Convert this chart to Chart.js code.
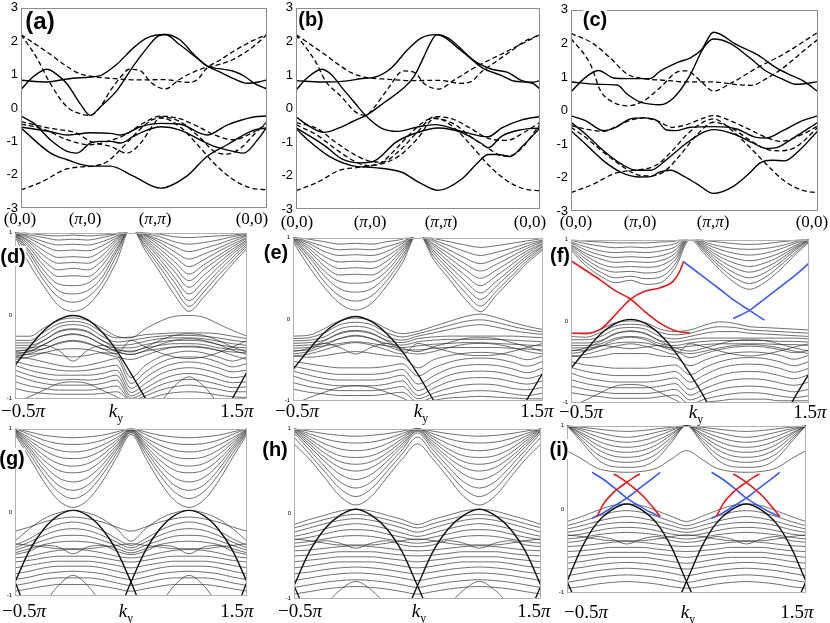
<!DOCTYPE html>
<html>
<head>
<meta charset="utf-8">
<title>bulk and slab bands</title>
<script src="https://cdn.jsdelivr.net/npm/chart.js@4.4.1/dist/chart.umd.min.js"></script>
<style>
  html, body { margin: 0; padding: 0; background: #fff; }
  #fig { position: relative; width: 830px; height: 623px; overflow: hidden; }
  #fig canvas { position: absolute; }
  .xl { position: absolute; transform: translate(-50%, -50%); font-family: "Liberation Serif", "DejaVu Serif", serif; white-space: nowrap; color: #000; line-height: 1; }
  .tag { position: absolute; transform: translate(-50%, -50%); font-family: "Liberation Sans", Arial, sans-serif; font-weight: bold; background: #fff; line-height: 1; white-space: nowrap; }
</style>
</head>
<body>
<div id="fig"></div>
<script>
// ---- tick labels ----
const pathTicks = ['(0,0)', '(π,0)', '(π,π)', '(0,0)'];   // Γ - X - M - Γ, |MΓ| = 1.414
const kyTicks = ['−0.5π', 'k_y', '1.5π'];

// ---- bulk bands (a)-(c): [k, E] ----
const aSolid = [
  [[0,0.83],[0.36,0.78],[0.64,0.87],[0.96,0.93],[1.1,0.97],[1.33,1.31],[1.56,1.8],[1.75,2.1],[2,2.2],[2.2,2.05],[2.4,1.6],[2.58,1.26],[2.77,1.17],[2.95,1.1],[3.1,0.95],[3.25,0.72],[3.414,0.57]],
  [[0,0.55],[0.15,0.9],[0.36,1.16],[0.5,1.0],[0.64,0.72],[0.82,0.13],[0.96,-0.22],[1.1,0.03],[1.33,0.52],[1.56,1.26],[1.75,1.8],[1.9,2.15],[2,2.2],[2.2,1.9],[2.49,1.41],[2.58,1.26],[2.77,1.07],[2.95,0.88],[3.14,0.74],[3.3,0.78],[3.414,0.84]],
  [[0,-0.57],[0.41,-0.71],[0.64,-0.81],[0.96,-0.74],[1.24,-0.76],[1.38,-0.81],[1.66,-0.56],[1.94,-0.46],[2.2,-0.48],[2.49,-0.76],[2.58,-0.81],[2.86,-0.51],[3.23,-0.27],[3.414,-0.24]],
  [[0,-0.24],[0.18,-0.46],[0.41,-0.96],[0.64,-1.3],[0.78,-1.35],[0.96,-1.05],[1.1,-1.0],[1.24,-1.0],[1.38,-1.05],[1.56,-0.85],[1.75,-0.66],[1.94,-0.56],[2.21,-0.66],[2.49,-0.96],[2.68,-1.15],[2.95,-1.3],[3.09,-1.35],[3.28,-0.96],[3.414,-0.56]],
  [[0,-0.6],[0.41,-1.35],[0.64,-1.55],[0.96,-1.74],[1.24,-1.74],[1.56,-2.04],[1.94,-2.4],[2.3,-2.04],[2.58,-1.45],[2.86,-1.1],[3.23,-0.66],[3.414,-0.6]]
];
const aDashed = [
  [[0,2.2],[0.41,1.6],[0.6,1.3],[0.78,1.06],[1,0.94],[1.3,0.88],[1.6,0.84],[2,0.85],[2.3,0.77],[2.45,0.85],[2.58,1.2],[2.75,1.42],[2.95,1.7],[3.2,2.0],[3.414,2.2]],
  [[0,2.2],[0.22,1.5],[0.41,0.72],[0.64,0.03],[0.87,-0.2],[0.96,-0.22],[1.1,0.03],[1.24,0.52],[1.38,0.92],[1.5,1.16],[1.66,1.11],[1.8,0.77],[2,0.57],[2.21,0.87],[2.49,1.16],[2.68,1.26],[2.95,1.46],[3.23,1.85],[3.414,2.2]],
  [[0,-0.41],[0.41,-0.61],[0.78,-0.76],[0.96,-1.0],[1.24,-1.15],[1.47,-1.35],[1.66,-1.05],[1.85,-0.46],[1.94,-0.27],[2.2,-0.4],[2.49,-0.9],[2.68,-1.3],[2.86,-1.38],[3.05,-1.2],[3.23,-0.8],[3.414,-0.41]],
  [[0,-0.48],[0.3,-0.62],[0.64,-0.95],[0.96,-1.1],[1.2,-1.0],[1.45,-0.8],[1.7,-0.45],[1.94,-0.24],[2.2,-0.32],[2.45,-0.55],[2.7,-0.82],[2.95,-0.95],[3.2,-0.75],[3.414,-0.48]],
  [[0,-2.45],[0.3,-2.2],[0.6,-1.85],[0.85,-1.76],[1,-1.74],[1.2,-1.6],[1.4,-1.2],[1.6,-0.75],[1.8,-0.38],[1.94,-0.3],[2.2,-0.55],[2.45,-1.1],[2.7,-1.7],[2.95,-2.15],[3.2,-2.4],[3.414,-2.45]]
];
const bSolid = [
  [[0,0.83],[0.36,0.79],[0.6,0.8],[0.96,0.9],[1.1,0.93],[1.33,1.2],[1.56,1.75],[1.75,2.1],[1.97,2.2],[2.13,2.1],[2.5,1.41],[2.74,1.17],[2.97,1.07],[3.16,0.83],[3.3,0.78],[3.414,0.83]],
  [[0,0.55],[0.15,0.9],[0.36,1.17],[0.5,1.0],[0.64,0.63],[0.83,0.15],[0.97,-0.2],[1.2,-0.59],[1.43,-0.68],[1.7,-0.55],[1.95,-0.48],[2.32,-0.68],[2.6,-0.83],[2.69,-0.84],[2.88,-0.58],[3.16,-0.34],[3.414,-0.24]],
  [[0,-0.25],[0.2,-0.55],[0.39,-0.71],[0.6,-0.58],[0.8,-0.38],[1,-0.18],[1.25,0.2],[1.5,0.6],[1.65,0.95],[1.78,1.5],[1.88,1.95],[1.97,2.2],[2.32,1.71],[2.6,1.22],[2.88,0.98],[3.06,0.81],[3.3,0.76],[3.414,0.58]],
  [[0,-0.57],[0.41,-1.12],[0.64,-1.5],[0.9,-1.62],[1.1,-1.56],[1.4,-1.0],[1.68,-0.73],[1.99,-0.58],[2.32,-0.72],[2.6,-1.05],[2.69,-1.17],[2.88,-0.82],[3.16,-0.63],[3.414,-0.58]],
  [[0,-0.6],[0.2,-1.0],[0.46,-1.42],[0.78,-1.7],[1.1,-1.76],[1.48,-1.9],[1.72,-2.2],[1.99,-2.44],[2.32,-2.1],[2.55,-1.6],[2.69,-1.37],[2.83,-1.37],[3.0,-1.43],[3.16,-1.14],[3.414,-0.58]]
];
const bDashed = [
  [[0,2.2],[0.41,1.6],[0.6,1.3],[0.78,1.06],[1,0.92],[1.3,0.87],[1.6,0.83],[2,0.84],[2.3,0.75],[2.45,0.8],[2.6,1.1],[2.8,1.4],[3.0,1.7],[3.2,2.0],[3.414,2.2]],
  [[0,2.2],[0.27,1.41],[0.41,0.83],[0.64,0.34],[0.83,-0.1],[0.97,-0.2],[1.1,0.05],[1.3,0.63],[1.5,1.12],[1.66,1.07],[1.8,0.73],[2,0.58],[2.2,0.83],[2.5,1.22],[2.95,1.7],[3.414,2.2]],
  [[0,-0.42],[0.3,-0.6],[0.55,-1.0],[0.8,-1.35],[1,-1.55],[1.2,-1.6],[1.45,-1.25],[1.7,-0.7],[1.94,-0.24],[2.2,-0.32],[2.45,-0.6],[2.7,-0.9],[2.95,-0.95],[3.2,-0.7],[3.414,-0.42]],
  [[0,-0.48],[0.3,-0.8],[0.55,-1.2],[0.8,-1.55],[1,-1.7],[1.2,-1.65],[1.45,-1.4],[1.7,-0.9],[1.94,-0.3],[2.2,-0.45],[2.45,-0.85],[2.7,-1.2],[2.9,-1.42],[3.1,-1.3],[3.414,-0.48]],
  [[0,-2.45],[0.3,-2.2],[0.6,-1.85],[0.85,-1.76],[1,-1.72],[1.2,-1.6],[1.4,-1.2],[1.6,-0.75],[1.8,-0.38],[1.94,-0.28],[2.2,-0.55],[2.45,-1.1],[2.7,-1.7],[2.95,-2.15],[3.2,-2.4],[3.414,-2.45]]
];
const cSolid = [
  [[0,0.85],[0.36,0.78],[0.64,0.76],[0.77,0.5],[0.96,0.25],[1.1,0.19],[1.23,0.17],[1.42,0.38],[1.65,1.07],[1.83,1.86],[1.97,2.13],[2.2,2.0],[2.47,1.57],[2.7,1.17],[2.93,0.93],[3.12,0.78],[3.414,0.86]],
  [[0,0.55],[0.18,0.95],[0.38,1.19],[0.59,0.97],[0.77,0.95],[1.09,0.95],[1.23,1.17],[1.46,1.42],[1.65,1.57],[1.8,1.8],[1.97,2.33],[2.29,1.96],[2.57,1.67],[2.84,1.27],[3.02,1.07],[3.21,0.88],[3.414,0.56]],
  [[0,-0.16],[0.2,-0.3],[0.45,-0.6],[0.62,-0.5],[0.82,-0.25],[1,-0.22],[1.19,-0.3],[1.32,-0.58],[1.46,-0.6],[1.65,-0.5],[1.97,-0.48],[2.29,-0.55],[2.56,-0.8],[2.7,-0.82],[2.93,-0.6],[3.2,-0.3],[3.414,-0.16]],
  [[0,-0.35],[0.2,-0.7],[0.45,-1.2],[0.7,-1.6],[0.9,-1.78],[1.1,-1.78],[1.3,-1.5],[1.55,-1.05],[1.8,-0.68],[1.97,-0.57],[2.25,-0.7],[2.5,-0.95],[2.7,-1.13],[2.85,-1.1],[3.05,-0.85],[3.414,-0.35]],
  [[0,-0.6],[0.2,-1.0],[0.45,-1.5],[0.7,-1.85],[0.95,-1.98],[1.1,-1.97],[1.23,-1.83],[1.38,-1.78],[1.55,-1.95],[1.75,-2.2],[1.97,-2.47],[2.25,-2.25],[2.45,-1.9],[2.62,-1.55],[2.78,-1.48],[2.95,-1.5],[3.15,-1.2],[3.414,-0.6]]
];
const cDashed = [
  [[0,2.3],[0.3,2.0],[0.55,1.55],[0.78,1.08],[1,0.95],[1.3,0.9],[1.6,0.85],[1.97,0.85],[2.3,0.77],[2.5,0.75],[2.7,0.95],[2.95,1.3],[3.2,1.75],[3.414,2.12]],
  [[0,2.15],[0.27,1.37],[0.41,0.58],[0.59,0.24],[0.77,0.14],[1,0.28],[1.23,0.68],[1.5,1.17],[1.6,1.18],[1.79,0.88],[1.97,0.58],[2.2,0.8],[2.57,1.27],[2.93,1.67],[3.414,2.33]],
  [[0,-0.45],[0.2,-0.55],[0.45,-0.62],[0.65,-0.45],[0.85,-0.27],[1,-0.22],[1.2,-0.32],[1.4,-0.5],[1.6,-0.42],[1.8,-0.25],[1.97,-0.15],[2.2,-0.3],[2.45,-0.55],[2.7,-0.8],[2.9,-0.92],[3.1,-0.8],[3.3,-0.6],[3.414,-0.45]],
  [[0,-0.5],[0.2,-0.8],[0.45,-1.25],[0.7,-1.65],[0.9,-1.9],[1.1,-1.95],[1.3,-1.8],[1.5,-1.35],[1.75,-0.7],[1.97,-0.35],[2.2,-0.5],[2.45,-0.85],[2.7,-1.15],[2.9,-1.2],[3.1,-1.1],[3.414,-0.5]],
  [[0,-2.45],[0.3,-2.2],[0.6,-1.88],[0.85,-1.78],[1,-1.75],[1.2,-1.6],[1.4,-1.2],[1.6,-0.72],[1.8,-0.38],[1.97,-0.25],[2.2,-0.55],[2.45,-1.05],[2.7,-1.6],[2.95,-2.1],[3.2,-2.38],[3.414,-2.45]]
];

// ---- slab bands (d)-(i): E at each ky of KY (units of π) ----
const KY = [-0.5,-0.375,-0.25,-0.125,0,0.125,0.25,0.375,0.5,0.625,0.75,0.875,1,1.125,1.25,1.375,1.5];

const dCond = [
  [0.95,0.62,0.35,0.12,0.05,0.12,0.33,0.65,1.05,0.78,0.52,0.25,0.05,0.22,0.42,0.62,0.81],
  [0.97,0.7,0.42,0.22,0.16,0.22,0.4,0.72,1.05,0.82,0.58,0.33,0.11,0.28,0.48,0.66,0.84],
  [0.98,0.75,0.48,0.3,0.26,0.3,0.46,0.77,1.05,0.85,0.63,0.4,0.18,0.34,0.53,0.7,0.86],
  [0.99,0.78,0.54,0.38,0.36,0.39,0.53,0.8,1.05,0.88,0.68,0.46,0.26,0.41,0.58,0.74,0.88],
  [0.99,0.82,0.6,0.47,0.48,0.47,0.6,0.84,1.05,0.9,0.72,0.53,0.34,0.48,0.63,0.77,0.9],
  [1.0,0.85,0.66,0.55,0.57,0.55,0.66,0.87,1.05,0.92,0.76,0.59,0.42,0.55,0.68,0.8,0.91],
  [1.0,0.88,0.72,0.63,0.64,0.63,0.72,0.9,1.05,0.94,0.8,0.65,0.5,0.61,0.72,0.83,0.93],
  [1.0,0.9,0.78,0.7,0.71,0.7,0.78,0.92,1.05,0.96,0.84,0.71,0.59,0.67,0.77,0.86,0.94],
  [1.0,0.93,0.84,0.78,0.79,0.78,0.84,0.94,1.05,0.97,0.88,0.77,0.68,0.74,0.81,0.89,0.96],
  [1.01,0.95,0.89,0.85,0.86,0.85,0.89,0.96,1.05,0.98,0.91,0.83,0.77,0.81,0.86,0.92,0.97],
  [1.01,0.97,0.94,0.91,0.92,0.91,0.94,0.98,1.05,0.99,0.95,0.89,0.86,0.88,0.91,0.95,0.98],
  [1.02,0.99,0.97,0.96,0.97,0.96,0.97,0.99,1.05,1.0,0.98,0.95,0.94,0.95,0.96,0.97,0.99]
];
const dVal = [
  [-0.25,-0.25,-0.15,-0.06,-0.03,-0.06,-0.15,-0.25,-0.27,-0.16,-0.07,-0.01,0,-0.02,-0.1,-0.18,-0.25],
  [-0.3,-0.3,-0.2,-0.1,-0.07,-0.1,-0.2,-0.27,-0.26,-0.23,-0.22,-0.21,-0.21,-0.21,-0.22,-0.25,-0.28],
  [-0.33,-0.33,-0.25,-0.14,-0.11,-0.14,-0.25,-0.32,-0.3,-0.27,-0.25,-0.24,-0.24,-0.25,-0.27,-0.3,-0.32],
  [-0.36,-0.36,-0.3,-0.19,-0.16,-0.19,-0.3,-0.36,-0.35,-0.31,-0.28,-0.27,-0.27,-0.28,-0.31,-0.34,-0.36],
  [-0.39,-0.39,-0.35,-0.26,-0.22,-0.26,-0.35,-0.39,-0.39,-0.35,-0.32,-0.3,-0.3,-0.31,-0.35,-0.38,-0.39],
  [-0.42,-0.42,-0.4,-0.33,-0.3,-0.33,-0.4,-0.42,-0.43,-0.39,-0.36,-0.34,-0.34,-0.35,-0.39,-0.41,-0.42],
  [-0.44,-0.4,-0.3,-0.2,-0.17,-0.2,-0.3,-0.4,-0.44,-0.38,-0.3,-0.24,-0.22,-0.24,-0.3,-0.38,-0.44],
  [-0.47,-0.43,-0.35,-0.26,-0.23,-0.26,-0.35,-0.43,-0.47,-0.42,-0.35,-0.3,-0.28,-0.3,-0.35,-0.42,-0.47],
  [-0.5,-0.46,-0.4,-0.34,-0.31,-0.34,-0.4,-0.46,-0.3,-0.38,-0.45,-0.5,-0.52,-0.5,-0.45,-0.38,-0.3],
  [-0.53,-0.5,-0.45,-0.41,-0.4,-0.41,-0.45,-0.5,-0.53,-0.48,-0.42,-0.38,-0.37,-0.38,-0.42,-0.48,-0.53],
  [-0.45,-0.44,-0.36,-0.42,-0.55,-0.42,-0.36,-0.44,-0.47,-0.43,-0.4,-0.38,-0.38,-0.39,-0.42,-0.44,-0.45],
  [-0.48,-0.47,-0.45,-0.48,-0.5,-0.48,-0.45,-0.47,-0.75,-0.6,-0.5,-0.45,-0.43,-0.45,-0.5,-0.55,-0.5],
  [-0.5,-0.52,-0.56,-0.6,-0.62,-0.6,-0.56,-0.52,-0.82,-0.68,-0.57,-0.51,-0.5,-0.51,-0.56,-0.62,-0.58],
  [-0.55,-0.6,-0.63,-0.66,-0.67,-0.66,-0.63,-0.6,-0.88,-0.75,-0.64,-0.58,-0.56,-0.58,-0.63,-0.68,-0.66],
  [-0.6,-0.66,-0.7,-0.72,-0.72,-0.72,-0.7,-0.66,-0.93,-0.82,-0.71,-0.65,-0.63,-0.65,-0.7,-0.75,-0.73],
  [-0.66,-0.72,-0.76,-0.78,-0.77,-0.78,-0.76,-0.72,-0.97,-0.88,-0.78,-0.72,-0.7,-0.72,-0.77,-0.81,-0.8],
  [-0.72,-0.78,-0.82,-0.84,-0.84,-0.84,-0.82,-0.78,-1.0,-0.93,-0.84,-0.79,-0.77,-0.79,-0.83,-0.87,-0.86],
  [-0.8,-0.85,-0.88,-0.9,-0.9,-0.9,-0.88,-0.85,-1.02,-0.97,-0.9,-0.86,-0.84,-0.86,-0.89,-0.92,-0.92],
  [-0.88,-0.92,-0.94,-0.95,-0.95,-0.95,-0.94,-0.92,-1.05,-1.2,-1.05,-0.85,-0.74,-0.85,-1.05,-1.2,-1.3],
  [-1.05,-0.98,-0.9,-0.82,-0.8,-0.82,-0.9,-0.98,-1.05,-1.02,-0.96,-0.93,-0.92,-0.93,-0.96,-0.98,-0.99]
];
const dHeavy = [
  [-0.6,-0.38,-0.18,-0.05,0,-0.05,-0.2,-0.42,-0.7,-1.0,-1.3,-1.5,-1.5,-1.5,-1.3,-1.0,-0.68]
];

const eCond = [
  [0.95,0.65,0.39,0.19,0.11,0.19,0.41,0.69,1.05,0.73,0.49,0.25,0.09,0.29,0.49,0.69,0.85],
  [0.97,0.72,0.46,0.28,0.22,0.28,0.47,0.74,1.05,0.77,0.55,0.33,0.16,0.34,0.53,0.72,0.87],
  [0.98,0.77,0.53,0.37,0.33,0.37,0.53,0.78,1.05,0.81,0.6,0.4,0.24,0.4,0.58,0.75,0.89],
  [0.99,0.8,0.59,0.46,0.44,0.46,0.59,0.82,1.05,0.84,0.65,0.47,0.32,0.46,0.62,0.78,0.9],
  [0.99,0.84,0.65,0.54,0.55,0.54,0.65,0.85,1.05,0.87,0.7,0.54,0.41,0.53,0.67,0.81,0.92],
  [1.0,0.87,0.71,0.62,0.63,0.62,0.71,0.88,1.05,0.9,0.75,0.61,0.5,0.6,0.72,0.84,0.93],
  [1.0,0.9,0.77,0.7,0.71,0.7,0.77,0.9,1.05,0.92,0.8,0.68,0.59,0.67,0.77,0.87,0.95],
  [1.0,0.93,0.83,0.78,0.79,0.78,0.83,0.93,1.05,0.95,0.85,0.75,0.68,0.74,0.82,0.9,0.96],
  [1.01,0.95,0.89,0.85,0.86,0.85,0.89,0.95,1.05,0.97,0.9,0.83,0.78,0.82,0.87,0.93,0.97],
  [1.01,0.98,0.95,0.92,0.93,0.92,0.95,0.98,1.05,0.99,0.95,0.91,0.88,0.9,0.93,0.96,0.99]
];
const eVal = [
  [-0.21,-0.2,-0.12,-0.02,0.01,-0.02,-0.12,-0.18,-0.15,-0.09,-0.03,0.03,0.06,0.02,-0.04,-0.09,-0.13],
  [-0.24,-0.23,-0.17,-0.07,-0.04,-0.07,-0.17,-0.22,-0.18,-0.13,-0.08,-0.03,-0.01,-0.04,-0.09,-0.13,-0.16],
  [-0.27,-0.26,-0.22,-0.12,-0.09,-0.12,-0.22,-0.26,-0.21,-0.17,-0.13,-0.09,-0.07,-0.1,-0.14,-0.17,-0.19],
  [-0.3,-0.29,-0.26,-0.18,-0.15,-0.18,-0.26,-0.29,-0.24,-0.22,-0.21,-0.21,-0.21,-0.21,-0.21,-0.22,-0.23],
  [-0.33,-0.32,-0.3,-0.24,-0.21,-0.24,-0.3,-0.32,-0.28,-0.26,-0.25,-0.25,-0.25,-0.25,-0.26,-0.27,-0.28],
  [-0.36,-0.35,-0.33,-0.3,-0.28,-0.3,-0.33,-0.35,-0.33,-0.31,-0.3,-0.29,-0.29,-0.3,-0.31,-0.32,-0.33],
  [-0.4,-0.36,-0.27,-0.17,-0.14,-0.17,-0.27,-0.36,-0.4,-0.34,-0.29,-0.24,-0.23,-0.24,-0.29,-0.34,-0.4],
  [-0.43,-0.4,-0.33,-0.24,-0.2,-0.24,-0.33,-0.4,-0.43,-0.4,-0.35,-0.31,-0.3,-0.31,-0.35,-0.4,-0.43],
  [-0.46,-0.43,-0.38,-0.32,-0.29,-0.32,-0.38,-0.43,-0.3,-0.35,-0.4,-0.44,-0.45,-0.44,-0.4,-0.35,-0.3],
  [-0.39,-0.38,-0.3,-0.35,-0.43,-0.35,-0.3,-0.38,-0.38,-0.36,-0.35,-0.35,-0.35,-0.35,-0.36,-0.37,-0.38],
  [-0.45,-0.47,-0.45,-0.42,-0.4,-0.42,-0.45,-0.47,-0.6,-0.5,-0.45,-0.42,-0.41,-0.42,-0.45,-0.5,-0.45],
  [-0.52,-0.55,-0.58,-0.6,-0.6,-0.6,-0.58,-0.55,-0.7,-0.6,-0.53,-0.49,-0.48,-0.49,-0.53,-0.58,-0.52],
  [-0.58,-0.62,-0.66,-0.68,-0.68,-0.68,-0.66,-0.62,-0.8,-0.7,-0.61,-0.57,-0.56,-0.57,-0.61,-0.66,-0.6],
  [-0.64,-0.69,-0.73,-0.75,-0.75,-0.75,-0.73,-0.69,-0.88,-0.78,-0.69,-0.65,-0.64,-0.65,-0.69,-0.73,-0.68],
  [-0.7,-0.76,-0.8,-0.82,-0.82,-0.82,-0.8,-0.76,-0.94,-0.85,-0.77,-0.73,-0.72,-0.73,-0.77,-0.8,-0.76],
  [-0.78,-0.83,-0.86,-0.88,-0.88,-0.88,-0.86,-0.83,-0.98,-0.91,-0.85,-0.81,-0.8,-0.81,-0.85,-0.87,-0.84],
  [-0.86,-0.9,-0.92,-0.94,-0.94,-0.94,-0.92,-0.9,-1.02,-0.96,-0.92,-0.89,-0.88,-0.89,-0.92,-0.94,-0.91],
  [-1.05,-0.97,-0.9,-0.84,-0.82,-0.84,-0.9,-0.97,-1.05,-1.0,-0.97,-0.96,-0.95,-0.96,-0.97,-0.98,-0.98]
];
const eHeavy = [
  [-0.62,-0.38,-0.17,-0.03,0.03,-0.03,-0.18,-0.4,-0.68,-1.0,-1.3,-1.5,-1.5,-1.5,-1.3,-0.98,-0.66]
];

const fCond = [
  [0.87,0.68,0.55,0.47,0.5,0.45,0.47,0.65,1.0,0.82,0.63,0.47,0.39,0.47,0.62,0.8,0.97],
  [0.89,0.72,0.6,0.53,0.55,0.52,0.54,0.7,1.02,0.85,0.67,0.53,0.46,0.53,0.67,0.83,0.98],
  [0.91,0.76,0.65,0.6,0.61,0.59,0.61,0.75,1.03,0.87,0.71,0.59,0.53,0.59,0.71,0.86,0.99],
  [0.93,0.8,0.7,0.66,0.67,0.66,0.68,0.79,1.04,0.89,0.75,0.65,0.6,0.65,0.75,0.88,1.0],
  [0.94,0.83,0.76,0.72,0.73,0.72,0.74,0.83,1.05,0.91,0.79,0.71,0.67,0.71,0.79,0.9,1.0],
  [0.96,0.87,0.81,0.78,0.79,0.78,0.8,0.87,1.05,0.93,0.83,0.77,0.74,0.77,0.83,0.92,1.01],
  [0.97,0.91,0.86,0.84,0.85,0.84,0.86,0.91,1.05,0.95,0.88,0.83,0.81,0.83,0.88,0.95,1.01],
  [0.99,0.95,0.92,0.9,0.91,0.9,0.92,0.95,1.05,0.97,0.92,0.89,0.88,0.89,0.92,0.97,1.02],
  [1.0,0.98,0.97,0.96,0.96,0.96,0.97,0.98,1.05,0.99,0.97,0.95,0.94,0.95,0.97,0.99,1.02]
];
const fVal = [
  [-0.15,-0.16,-0.1,-0.02,0,-0.02,-0.1,-0.13,-0.11,-0.05,-0.01,-0.03,-0.07,-0.08,-0.09,-0.1,-0.11],
  [-0.19,-0.2,-0.14,-0.06,-0.04,-0.06,-0.14,-0.17,-0.15,-0.1,-0.07,-0.08,-0.11,-0.12,-0.13,-0.14,-0.15],
  [-0.23,-0.23,-0.19,-0.1,-0.08,-0.1,-0.19,-0.22,-0.19,-0.15,-0.13,-0.13,-0.15,-0.16,-0.17,-0.18,-0.19],
  [-0.27,-0.27,-0.24,-0.15,-0.13,-0.15,-0.24,-0.26,-0.23,-0.21,-0.21,-0.21,-0.21,-0.21,-0.21,-0.21,-0.22],
  [-0.3,-0.3,-0.28,-0.21,-0.19,-0.21,-0.28,-0.3,-0.27,-0.25,-0.24,-0.24,-0.24,-0.24,-0.25,-0.25,-0.26],
  [-0.33,-0.33,-0.31,-0.27,-0.26,-0.27,-0.31,-0.33,-0.31,-0.29,-0.28,-0.28,-0.28,-0.28,-0.29,-0.29,-0.3],
  [-0.37,-0.33,-0.25,-0.16,-0.12,-0.16,-0.25,-0.33,-0.37,-0.33,-0.28,-0.24,-0.23,-0.24,-0.28,-0.33,-0.37],
  [-0.4,-0.37,-0.31,-0.23,-0.2,-0.23,-0.31,-0.37,-0.4,-0.37,-0.33,-0.3,-0.29,-0.3,-0.33,-0.37,-0.4],
  [-0.44,-0.41,-0.36,-0.31,-0.28,-0.31,-0.36,-0.41,-0.28,-0.32,-0.37,-0.41,-0.43,-0.41,-0.37,-0.32,-0.28],
  [-0.36,-0.36,-0.3,-0.32,-0.34,-0.32,-0.3,-0.36,-0.45,-0.4,-0.35,-0.32,-0.31,-0.32,-0.35,-0.39,-0.36],
  [-0.42,-0.45,-0.43,-0.4,-0.4,-0.4,-0.43,-0.45,-0.55,-0.48,-0.42,-0.39,-0.38,-0.39,-0.42,-0.47,-0.42],
  [-0.5,-0.54,-0.56,-0.58,-0.58,-0.58,-0.56,-0.54,-0.66,-0.57,-0.5,-0.46,-0.45,-0.46,-0.5,-0.55,-0.5],
  [-0.57,-0.62,-0.65,-0.67,-0.67,-0.67,-0.65,-0.62,-0.75,-0.66,-0.58,-0.54,-0.53,-0.54,-0.58,-0.63,-0.58],
  [-0.64,-0.7,-0.73,-0.75,-0.75,-0.75,-0.73,-0.7,-0.84,-0.75,-0.67,-0.63,-0.62,-0.63,-0.67,-0.71,-0.66],
  [-0.72,-0.77,-0.8,-0.82,-0.82,-0.82,-0.8,-0.77,-0.91,-0.83,-0.76,-0.72,-0.71,-0.72,-0.76,-0.79,-0.75],
  [-0.8,-0.84,-0.87,-0.89,-0.89,-0.89,-0.87,-0.84,-0.97,-0.9,-0.84,-0.81,-0.8,-0.81,-0.84,-0.87,-0.84],
  [-0.88,-0.91,-0.93,-0.95,-0.95,-0.95,-0.93,-0.91,-1.02,-0.96,-0.92,-0.89,-0.88,-0.89,-0.92,-0.94,-0.92],
  [-1.05,-0.97,-0.88,-0.8,-0.78,-0.8,-0.88,-0.97,-1.05,-1.0,-0.98,-0.96,-0.96,-0.96,-0.98,-0.98,-0.98]
];
const fHeavy = [
  [-0.58,-0.36,-0.16,-0.03,0.02,-0.03,-0.17,-0.38,-0.65,-0.95,-1.3,-1.5,-1.5,-1.5,-1.3,-0.95,-0.65]
];
const fRed = [
  [[-0.5,0.74],[-0.375,0.62],[-0.25,0.5],[-0.125,0.37],[0,0.27],[0.125,0.11],[0.25,-0.03],[0.375,-0.12],[0.5,-0.15]],
  [[-0.5,-0.15],[-0.375,-0.15],[-0.25,-0.1],[-0.125,0.08],[0,0.27],[0.11,0.36],[0.25,0.41],[0.36,0.49],[0.42,0.63],[0.444,0.73]]
];
const fBlue = [
  [[0.444,0.73],[0.625,0.53],[0.75,0.39],[0.875,0.25],[1,0.13],[1.125,0.01]],
  [[0.863,0.03],[1,0.13],[1.125,0.27],[1.25,0.41],[1.375,0.55],[1.5,0.71]]
];

const gCond = [
  [0.93,0.65,0.36,0.14,0.055,0.14,0.36,0.65,0.93,0.65,0.36,0.14,0.055,0.14,0.36,0.65,0.93],
  [0.95,0.7,0.44,0.24,0.16,0.24,0.44,0.7,0.95,0.7,0.44,0.24,0.16,0.24,0.44,0.7,0.95],
  [0.96,0.74,0.5,0.32,0.26,0.32,0.5,0.74,0.96,0.74,0.5,0.32,0.26,0.32,0.5,0.74,0.96],
  [0.97,0.77,0.56,0.41,0.36,0.41,0.56,0.77,0.97,0.77,0.56,0.41,0.36,0.41,0.56,0.77,0.97],
  [0.98,0.8,0.62,0.5,0.47,0.5,0.62,0.8,0.98,0.8,0.62,0.5,0.47,0.5,0.62,0.8,0.98],
  [0.98,0.83,0.68,0.58,0.55,0.58,0.68,0.83,0.98,0.83,0.68,0.58,0.55,0.58,0.68,0.83,0.98],
  [0.99,0.86,0.74,0.66,0.64,0.66,0.74,0.86,0.99,0.86,0.74,0.66,0.64,0.66,0.74,0.86,0.99],
  [0.99,0.89,0.8,0.74,0.72,0.74,0.8,0.89,0.99,0.89,0.8,0.74,0.72,0.74,0.8,0.89,0.99],
  [1.0,0.93,0.86,0.82,0.81,0.82,0.86,0.93,1.0,0.93,0.86,0.82,0.81,0.82,0.86,0.93,1.0],
  [1.0,0.96,0.92,0.9,0.89,0.9,0.92,0.96,1.0,0.96,0.92,0.9,0.89,0.9,0.92,0.96,1.0]
];
const gVal = [
  [-0.35,-0.2,-0.08,-0.01,0.02,-0.01,-0.08,-0.2,-0.35,-0.2,-0.08,-0.01,0.02,-0.01,-0.08,-0.2,-0.35],
  [-0.23,-0.18,-0.12,-0.08,-0.06,-0.08,-0.12,-0.18,-0.23,-0.18,-0.12,-0.08,-0.06,-0.08,-0.12,-0.18,-0.23],
  [-0.4,-0.32,-0.22,-0.15,-0.12,-0.15,-0.22,-0.32,-0.4,-0.32,-0.22,-0.15,-0.12,-0.15,-0.22,-0.32,-0.4],
  [-0.43,-0.36,-0.28,-0.22,-0.2,-0.22,-0.28,-0.36,-0.43,-0.36,-0.28,-0.22,-0.2,-0.22,-0.28,-0.36,-0.43],
  [-0.46,-0.4,-0.34,-0.29,-0.28,-0.29,-0.34,-0.4,-0.46,-0.4,-0.34,-0.29,-0.28,-0.29,-0.34,-0.4,-0.46],
  [-0.49,-0.44,-0.39,-0.36,-0.35,-0.36,-0.39,-0.44,-0.49,-0.44,-0.39,-0.36,-0.35,-0.36,-0.39,-0.44,-0.49],
  [-0.38,-0.4,-0.42,-0.44,-0.44,-0.44,-0.42,-0.4,-0.38,-0.4,-0.42,-0.44,-0.44,-0.44,-0.42,-0.4,-0.38],
  [-0.51,-0.47,-0.4,-0.42,-0.5,-0.42,-0.4,-0.47,-0.51,-0.47,-0.4,-0.42,-0.5,-0.42,-0.4,-0.47,-0.51],
  [-0.55,-0.53,-0.49,-0.46,-0.45,-0.46,-0.49,-0.53,-0.55,-0.53,-0.49,-0.46,-0.45,-0.46,-0.49,-0.53,-0.55],
  [-0.6,-0.58,-0.55,-0.53,-0.53,-0.53,-0.55,-0.58,-0.6,-0.58,-0.55,-0.53,-0.53,-0.53,-0.55,-0.58,-0.6],
  [-0.67,-0.64,-0.61,-0.59,-0.59,-0.59,-0.61,-0.64,-0.67,-0.64,-0.61,-0.59,-0.59,-0.59,-0.61,-0.64,-0.67],
  [-0.74,-0.71,-0.67,-0.65,-0.65,-0.65,-0.67,-0.71,-0.74,-0.71,-0.67,-0.65,-0.65,-0.65,-0.67,-0.71,-0.74],
  [-0.81,-0.78,-0.74,-0.72,-0.71,-0.72,-0.74,-0.78,-0.81,-0.78,-0.74,-0.72,-0.71,-0.72,-0.74,-0.78,-0.81],
  [-0.88,-0.85,-0.81,-0.79,-0.79,-0.79,-0.81,-0.85,-0.88,-0.85,-0.81,-0.79,-0.79,-0.79,-0.81,-0.85,-0.88],
  [-0.95,-0.92,-0.89,-0.87,-0.87,-0.87,-0.89,-0.92,-0.95,-0.92,-0.89,-0.87,-0.87,-0.87,-0.89,-0.92,-0.95],
  [-1.3,-1.25,-1.1,-0.88,-0.76,-0.88,-1.1,-1.25,-1.3,-1.25,-1.1,-0.88,-0.76,-0.88,-1.1,-1.25,-1.3]
];
const gHeavy = [
  [-0.84,-0.46,-0.2,-0.04,0.02,-0.04,-0.2,-0.46,-0.84,-1.25,-1.5,-1.5,-1.5,-1.5,-1.5,-1.25,-0.84],
  [-0.84,-1.25,-1.5,-1.5,-1.5,-1.5,-1.5,-1.25,-0.84,-0.46,-0.2,-0.04,0.02,-0.04,-0.2,-0.46,-0.84]
];

const hCond = [
  [0.82,0.64,0.42,0.2,0.1,0.2,0.42,0.64,0.82,0.64,0.42,0.2,0.1,0.2,0.42,0.64,0.82],
  [0.9,0.7,0.49,0.29,0.2,0.29,0.49,0.7,0.9,0.7,0.49,0.29,0.2,0.29,0.49,0.7,0.9],
  [0.95,0.75,0.55,0.37,0.3,0.37,0.55,0.75,0.95,0.75,0.55,0.37,0.3,0.37,0.55,0.75,0.95],
  [0.97,0.79,0.61,0.46,0.4,0.46,0.61,0.79,0.97,0.79,0.61,0.46,0.4,0.46,0.61,0.79,0.97],
  [0.98,0.82,0.66,0.54,0.5,0.54,0.66,0.82,0.98,0.82,0.66,0.54,0.5,0.54,0.66,0.82,0.98],
  [0.99,0.85,0.71,0.61,0.58,0.61,0.71,0.85,0.99,0.85,0.71,0.61,0.58,0.61,0.71,0.85,0.99],
  [1.0,0.88,0.76,0.68,0.66,0.68,0.76,0.88,1.0,0.88,0.76,0.68,0.66,0.68,0.76,0.88,1.0],
  [1.0,0.91,0.82,0.76,0.74,0.76,0.82,0.91,1.0,0.91,0.82,0.76,0.74,0.76,0.82,0.91,1.0],
  [1.0,0.94,0.88,0.84,0.83,0.84,0.88,0.94,1.0,0.94,0.88,0.84,0.83,0.84,0.88,0.94,1.0],
  [1.0,0.97,0.94,0.92,0.91,0.92,0.94,0.97,1.0,0.97,0.94,0.92,0.91,0.92,0.94,0.97,1.0]
];
const hVal = [
  [-0.13,-0.07,-0.02,0.03,0.05,0.03,-0.02,-0.07,-0.13,-0.07,-0.02,0.03,0.05,0.03,-0.02,-0.07,-0.13],
  [-0.17,-0.12,-0.07,-0.03,-0.01,-0.03,-0.07,-0.12,-0.17,-0.12,-0.07,-0.03,-0.01,-0.03,-0.07,-0.12,-0.17],
  [-0.22,-0.17,-0.12,-0.08,-0.06,-0.08,-0.12,-0.17,-0.22,-0.17,-0.12,-0.08,-0.06,-0.08,-0.12,-0.17,-0.22],
  [-0.27,-0.23,-0.18,-0.14,-0.12,-0.14,-0.18,-0.23,-0.27,-0.23,-0.18,-0.14,-0.12,-0.14,-0.18,-0.23,-0.27],
  [-0.31,-0.28,-0.24,-0.2,-0.19,-0.2,-0.24,-0.28,-0.31,-0.28,-0.24,-0.2,-0.19,-0.2,-0.24,-0.28,-0.31],
  [-0.35,-0.33,-0.3,-0.27,-0.26,-0.27,-0.3,-0.33,-0.35,-0.33,-0.3,-0.27,-0.26,-0.27,-0.3,-0.33,-0.35],
  [-0.3,-0.32,-0.35,-0.37,-0.37,-0.37,-0.35,-0.32,-0.3,-0.32,-0.35,-0.37,-0.37,-0.37,-0.35,-0.32,-0.3],
  [-0.39,-0.37,-0.32,-0.35,-0.41,-0.35,-0.32,-0.37,-0.39,-0.37,-0.32,-0.35,-0.41,-0.35,-0.32,-0.37,-0.39],
  [-0.44,-0.43,-0.41,-0.39,-0.38,-0.39,-0.41,-0.43,-0.44,-0.43,-0.41,-0.39,-0.38,-0.39,-0.41,-0.43,-0.44],
  [-0.5,-0.49,-0.47,-0.45,-0.45,-0.45,-0.47,-0.49,-0.5,-0.49,-0.47,-0.45,-0.45,-0.45,-0.47,-0.49,-0.5],
  [-0.57,-0.55,-0.53,-0.51,-0.51,-0.51,-0.53,-0.55,-0.57,-0.55,-0.53,-0.51,-0.51,-0.51,-0.53,-0.55,-0.57],
  [-0.64,-0.62,-0.59,-0.57,-0.57,-0.57,-0.59,-0.62,-0.64,-0.62,-0.59,-0.57,-0.57,-0.57,-0.59,-0.62,-0.64],
  [-0.71,-0.69,-0.66,-0.64,-0.63,-0.64,-0.66,-0.69,-0.71,-0.69,-0.66,-0.64,-0.63,-0.64,-0.66,-0.69,-0.71],
  [-0.79,-0.76,-0.73,-0.71,-0.7,-0.71,-0.73,-0.76,-0.79,-0.76,-0.73,-0.71,-0.7,-0.71,-0.73,-0.76,-0.79],
  [-0.87,-0.84,-0.81,-0.79,-0.78,-0.79,-0.81,-0.84,-0.87,-0.84,-0.81,-0.79,-0.78,-0.79,-0.81,-0.84,-0.87],
  [-0.95,-0.92,-0.89,-0.87,-0.86,-0.87,-0.89,-0.92,-0.95,-0.92,-0.89,-0.87,-0.86,-0.87,-0.89,-0.92,-0.95],
  [-1.3,-1.25,-1.08,-0.9,-0.8,-0.9,-1.08,-1.25,-1.3,-1.25,-1.08,-0.9,-0.8,-0.9,-1.08,-1.25,-1.3]
];
const hHeavy = [
  [-0.85,-0.45,-0.18,-0.02,0.05,-0.02,-0.18,-0.45,-0.85,-1.25,-1.5,-1.5,-1.5,-1.5,-1.5,-1.25,-0.85],
  [-0.85,-1.25,-1.5,-1.5,-1.5,-1.5,-1.5,-1.25,-0.85,-0.45,-0.18,-0.02,0.05,-0.02,-0.18,-0.45,-0.85]
];

const iCond = [
  [0.7,0.6,0.49,0.45,0.44,0.45,0.49,0.6,0.7,0.6,0.49,0.45,0.44,0.45,0.49,0.6,0.7],
  [1.0,0.8,0.6,0.51,0.5,0.51,0.6,0.8,1.0,0.8,0.6,0.51,0.5,0.51,0.6,0.8,1.0],
  [1.0,0.83,0.66,0.58,0.56,0.58,0.66,0.83,1.0,0.83,0.66,0.58,0.56,0.58,0.66,0.83,1.0],
  [1.0,0.86,0.72,0.64,0.62,0.64,0.72,0.86,1.0,0.86,0.72,0.64,0.62,0.64,0.72,0.86,1.0],
  [1.0,0.89,0.77,0.7,0.68,0.7,0.77,0.89,1.0,0.89,0.77,0.7,0.68,0.7,0.77,0.89,1.0],
  [1.0,0.91,0.82,0.76,0.74,0.76,0.82,0.91,1.0,0.91,0.82,0.76,0.74,0.76,0.82,0.91,1.0],
  [1.0,0.94,0.87,0.82,0.8,0.82,0.87,0.94,1.0,0.94,0.87,0.82,0.8,0.82,0.87,0.94,1.0],
  [1.0,0.96,0.92,0.88,0.86,0.88,0.92,0.96,1.0,0.96,0.92,0.88,0.86,0.88,0.92,0.96,1.0],
  [1.0,0.98,0.96,0.94,0.93,0.94,0.96,0.98,1.0,0.98,0.96,0.94,0.93,0.94,0.96,0.98,1.0]
];
const iVal = [
  [-0.15,-0.09,-0.02,0.04,0.06,0.04,-0.02,-0.09,-0.15,-0.09,-0.02,0.04,0.06,0.04,-0.02,-0.09,-0.15],
  [-0.2,-0.15,-0.09,-0.04,-0.02,-0.04,-0.09,-0.15,-0.2,-0.15,-0.09,-0.04,-0.02,-0.04,-0.09,-0.15,-0.2],
  [-0.24,-0.2,-0.15,-0.11,-0.09,-0.11,-0.15,-0.2,-0.24,-0.2,-0.15,-0.11,-0.09,-0.11,-0.15,-0.2,-0.24],
  [-0.28,-0.25,-0.2,-0.17,-0.16,-0.17,-0.2,-0.25,-0.28,-0.25,-0.2,-0.17,-0.16,-0.17,-0.2,-0.25,-0.28],
  [-0.32,-0.3,-0.26,-0.23,-0.22,-0.23,-0.26,-0.3,-0.32,-0.3,-0.26,-0.23,-0.22,-0.23,-0.26,-0.3,-0.32],
  [-0.36,-0.34,-0.31,-0.29,-0.28,-0.29,-0.31,-0.34,-0.36,-0.34,-0.31,-0.29,-0.28,-0.29,-0.31,-0.34,-0.36],
  [-0.31,-0.33,-0.36,-0.38,-0.38,-0.38,-0.36,-0.33,-0.31,-0.33,-0.36,-0.38,-0.38,-0.38,-0.36,-0.33,-0.31],
  [-0.4,-0.38,-0.33,-0.36,-0.42,-0.36,-0.33,-0.38,-0.4,-0.38,-0.33,-0.36,-0.42,-0.36,-0.33,-0.38,-0.4],
  [-0.45,-0.44,-0.42,-0.4,-0.39,-0.4,-0.42,-0.44,-0.45,-0.44,-0.42,-0.4,-0.39,-0.4,-0.42,-0.44,-0.45],
  [-0.51,-0.5,-0.48,-0.46,-0.46,-0.46,-0.48,-0.5,-0.51,-0.5,-0.48,-0.46,-0.46,-0.46,-0.48,-0.5,-0.51],
  [-0.58,-0.56,-0.54,-0.52,-0.52,-0.52,-0.54,-0.56,-0.58,-0.56,-0.54,-0.52,-0.52,-0.52,-0.54,-0.56,-0.58],
  [-0.65,-0.63,-0.6,-0.58,-0.58,-0.58,-0.6,-0.63,-0.65,-0.63,-0.6,-0.58,-0.58,-0.58,-0.6,-0.63,-0.65],
  [-0.72,-0.7,-0.67,-0.65,-0.64,-0.65,-0.67,-0.7,-0.72,-0.7,-0.67,-0.65,-0.64,-0.65,-0.67,-0.7,-0.72],
  [-0.8,-0.77,-0.74,-0.72,-0.71,-0.72,-0.74,-0.77,-0.8,-0.77,-0.74,-0.72,-0.71,-0.72,-0.74,-0.77,-0.8],
  [-0.88,-0.85,-0.82,-0.8,-0.79,-0.8,-0.82,-0.85,-0.88,-0.85,-0.82,-0.8,-0.79,-0.8,-0.82,-0.85,-0.88],
  [-0.95,-0.93,-0.9,-0.88,-0.87,-0.88,-0.9,-0.93,-0.95,-0.93,-0.9,-0.88,-0.87,-0.88,-0.9,-0.93,-0.95]
];
const iHeavy = [
  [-0.87,-0.46,-0.17,-0.01,0.06,-0.01,-0.17,-0.46,-0.87,-1.25,-1.5,-1.5,-1.5,-1.5,-1.5,-1.25,-0.87],
  [-0.87,-1.25,-1.5,-1.5,-1.5,-1.5,-1.5,-1.25,-0.87,-0.46,-0.17,-0.01,0.06,-0.01,-0.17,-0.46,-0.87]
];
const iRed = [
  [[-0.25,-0.09],[-0.19,0.07],[-0.11,0.2],[0,0.32],[0.06,0.38],[0.11,0.42]],
  [[-0.11,0.42],[-0.06,0.38],[0,0.32],[0.14,0.15],[0.28,-0.09]],
  [[0.75,-0.09],[0.81,0.07],[0.89,0.2],[1,0.32],[1.06,0.38],[1.11,0.42]],
  [[0.89,0.42],[0.94,0.38],[1,0.32],[1.14,0.15],[1.28,-0.09]]
];
const iBlue = [
  [[-0.29,0.44],[-0.2,0.36],[-0.1,0.25],[0,0.13],[0.1,0.04],[0.2,-0.04],[0.28,-0.09]],
  [[-0.29,-0.11],[-0.2,-0.05],[-0.1,0.04],[0,0.13],[0.1,0.24],[0.2,0.35],[0.28,0.44]],
  [[0.71,0.44],[0.8,0.36],[0.9,0.25],[1,0.13],[1.1,0.04],[1.2,-0.04],[1.28,-0.09]],
  [[0.71,-0.11],[0.8,-0.05],[0.9,0.04],[1,0.13],[1.1,0.24],[1.2,0.35],[1.28,0.44]]
];

// ---- layout ----
const fig = document.getElementById('fig');

const framePlugin = {
  id: 'frame',
  afterDatasetsDraw(chart, args, opts) {
    const a = chart.chartArea, ctx = chart.ctx;
    ctx.save();
    ctx.strokeStyle = opts.color || '#999';
    ctx.lineWidth = 1;
    ctx.strokeRect(Math.round(a.left) + 0.5, Math.round(a.top) + 0.5,
                   Math.round(a.right - a.left) - 1, Math.round(a.bottom - a.top) - 1);
    ctx.restore();
  }
};

function addChart(box, xRange, yRange, datasets, tickSize, axisW, frameColor) {
  const [l, t, r, b] = box;
  const padT = Math.ceil(tickSize / 2) + 2, padB = padT, padR = 2;
  const w = r - l + axisW + padR, h = b - t + padT + padB;
  const cv = document.createElement('canvas');
  cv.width = w; cv.height = h;
  cv.style.left = (l - axisW) + 'px';
  cv.style.top = (t - padT) + 'px';
  cv.style.width = w + 'px';
  cv.style.height = h + 'px';
  fig.appendChild(cv);
  new Chart(cv, {
    type: 'line',
    data: { datasets: datasets },
    options: {
      responsive: false,
      animation: false,
      devicePixelRatio: 1,
      layout: { padding: { left: 0, top: padT, right: padR, bottom: padB } },
      plugins: { legend: { display: false }, tooltip: { enabled: false }, frame: { color: frameColor } },
      elements: { point: { radius: 0 }, line: { cubicInterpolationMode: 'monotone' } },
      scales: {
        x: { type: 'linear', min: xRange[0], max: xRange[1], display: false },
        y: {
          type: 'linear', min: yRange[0], max: yRange[1], position: 'left',
          grid: { display: false, drawTicks: false },
          border: { display: false },
          ticks: { stepSize: 1, padding: 3, color: '#000', font: { family: 'Liberation Sans', size: tickSize } },
          afterFit: function(s) { s.width = axisW; }
        }
      }
    },
    plugins: [framePlugin]
  });
}

function pairSet(band, color, width, dash) {
  return { data: band.map(p => ({ x: p[0], y: p[1] })), borderColor: color, borderWidth: width,
           borderDash: dash || [], pointRadius: 0, fill: false };
}
function gridSet(vals, color, width) {
  return { data: vals.map((v, i) => ({ x: KY[i], y: v })), borderColor: color, borderWidth: width,
           pointRadius: 0, fill: false };
}

function addText(cls, html, x, y, size) {
  const d = document.createElement('div');
  d.className = cls;
  d.innerHTML = html;
  d.style.left = x + 'px';
  d.style.top = y + 'px';
  d.style.fontSize = size + 'px';
  fig.appendChild(d);
}
function texLabel(s) {
  if (s === 'k_y') return '<i>k</i><span style="font-size:0.62em;position:relative;top:0.45em">y</span>';
  return s.replace(/π/g, '<i>π</i>');
}

const bulkPanels = [
  { tag: '(a)', box: [21, 6, 267, 210], solid: aSolid, dashed: aDashed, tagAt: [40, 21, 24], lblY: 218, lblX: [20, 85, 155, 252] },
  { tag: '(b)', box: [296, 6, 540, 211], solid: bSolid, dashed: bDashed, tagAt: [311, 19, 20], lblY: 221, lblX: [297, 370, 441, 530] },
  { tag: '(c)', box: [571, 8, 818, 213], solid: cSolid, dashed: cDashed, tagAt: [595, 19, 20], lblY: 221, lblX: [576, 640, 713, 812] }
];
const slabPanels = [
  { tag: '(d)', box: [15, 231, 247, 400], cond: dCond, val: dVal, heavy: dHeavy, red: [], blue: [], tagAt: [13, 256], lblY: 410, lblX: [23, 116, 237] },
  { tag: '(e)', box: [293, 236, 543, 402], cond: eCond, val: eVal, heavy: eHeavy, red: [], blue: [], tagAt: [276, 252], lblY: 410, lblX: [297, 421, 537] },
  { tag: '(f)', box: [571, 238, 809, 404], cond: fCond, val: fVal, heavy: fHeavy, red: fRed, blue: fBlue, tagAt: [560, 255], lblY: 411, lblX: [581, 696, 810] },
  { tag: '(g)', box: [15, 427, 247, 597], cond: gCond, val: gVal, heavy: gHeavy, red: [], blue: [], tagAt: [12, 458], lblY: 610, lblX: [24, 126, 237] },
  { tag: '(h)', box: [294, 427, 541, 600], cond: hCond, val: hVal, heavy: hHeavy, red: [], blue: [], tagAt: [275, 449], lblY: 610, lblX: [300, 419, 534] },
  { tag: '(i)', box: [567, 424, 806, 594], cond: iCond, val: iVal, heavy: iHeavy, red: iRed, blue: iBlue, tagAt: [559, 449], lblY: 611, lblX: [586, 688, 797] }
];

bulkPanels.forEach(p => {
  const sets = [];
  p.solid.forEach(b => sets.push(pairSet(b, '#000', 1.4)));
  p.dashed.forEach(b => sets.push(pairSet(b, '#000', 1.3, [5, 3])));
  addChart(p.box, [0, 3.414], [-3, 3], sets, 13, 20, '#8c8c8c');
  pathTicks.forEach((s, i) => addText('xl', texLabel(s), p.lblX[i], p.lblY, 17));
  addText('tag', p.tag, p.tagAt[0], p.tagAt[1], p.tagAt[2]);
});

slabPanels.forEach(p => {
  const sets = [];
  p.red.forEach(b => sets.push(pairSet(b, '#e8191b', 1.6)));
  p.blue.forEach(b => sets.push(pairSet(b, '#3b5bf0', 1.6)));
  p.heavy.forEach(v => sets.push(gridSet(v, '#111', 1.4)));
  p.cond.forEach(v => sets.push(gridSet(v, '#222', 0.65)));
  p.val.forEach(v => sets.push(gridSet(v, '#222', 0.65)));
  addChart(p.box, [-0.5, 1.5], [-1, 1], sets, 6, 10, '#b0b0b0');
  kyTicks.forEach((s, i) => addText('xl', texLabel(s), p.lblX[i], p.lblY, 19));
  addText('tag', p.tag, p.tagAt[0], p.tagAt[1], 20);
});
</script>
</body>
</html>
